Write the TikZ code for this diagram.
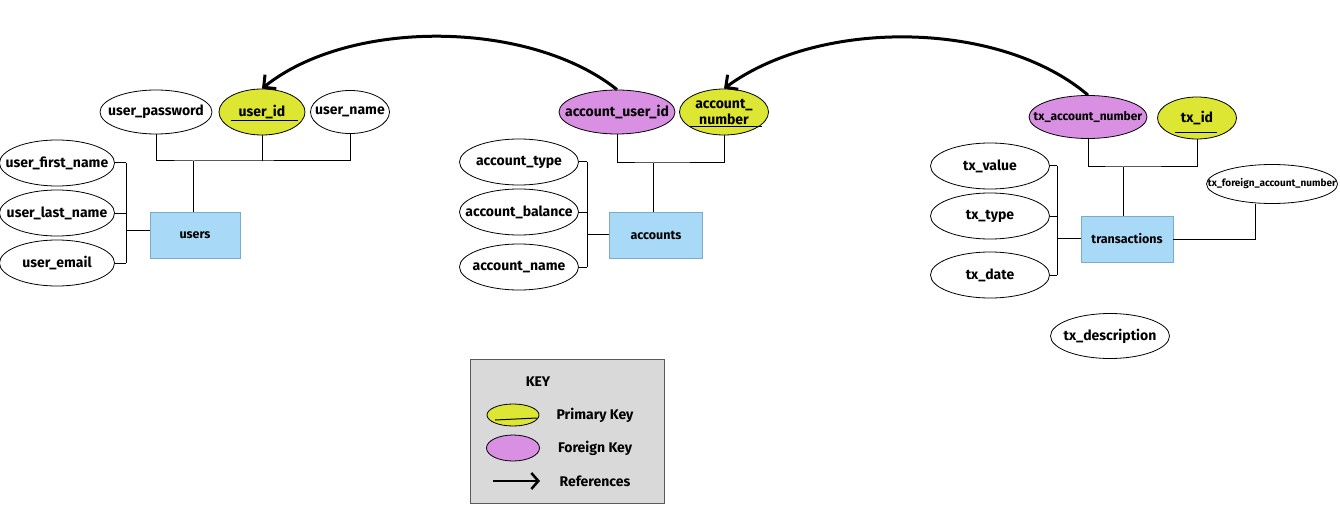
\documentclass[tikz,border=0pt]{standalone}
\usepackage{fontspec}
\setmainfont{Fira Sans}
\usetikzlibrary{shapes.geometric,arrows.meta}

\definecolor{pkyellow}{HTML}{DDE632}
\definecolor{fkpurple}{HTML}{D990E2}
\definecolor{entblue}{HTML}{A8DAF8}
\definecolor{entedge}{HTML}{7BAACB}
\definecolor{keygray}{HTML}{D9D9D9}

\newcommand{\lbl}[1]{\makebox[0pt]{#1}}

\tikzset{
	attr/.style={ellipse,draw,line width=0.8pt,inner sep=0pt,font=\bfseries\fontsize{14}{16}\selectfont},
	pk/.style={attr,fill=pkyellow},
	fk/.style={attr,fill=fkpurple},
	entity/.style={rectangle,draw=entedge,fill=entblue,line width=0.8pt,minimum height=46pt,font=\bfseries\fontsize{12.5}{14}\selectfont},
	link/.style={line width=1pt},
	refarrow/.style={line width=3pt,-{Straight Barb[length=9pt,width=18pt]}}
}

\begin{document}
\begin{tikzpicture}[x=1pt,y=-1pt]
	\useasboundingbox (0,0) rectangle (1340,513);

	% users
	\node[entity,minimum width=90pt] (users) at (195,235) {users};
	\node[attr,minimum width=112pt,minimum height=44pt] (upw) at (156,112) {\lbl{user\_password}};
	\node[pk,minimum width=86pt,minimum height=46pt] (uid) at (262,112) {\lbl{user\_id}};
	\draw[link] ([shift={(-31,9)}]uid.center) -- ++(67,0);
	\node[attr,minimum width=79pt,minimum height=43pt] (uname) at (350,112) {\lbl{user\_name}};
	\coordinate (ujoin) at (193,161);
	\coordinate (ubar) at (126,230);
	\draw[link] (upw.south) |- (ujoin) -| (uname.south);
	\draw[link] (uid.south) -- (uid.south |- ujoin);
	\draw[link] (ujoin) -- (ujoin |- users.north);
	\foreach \n/\t/\y in {ufirst/user\_first\_name/163,ulast/user\_last\_name/213,uemail/user\_email/263}{
		\node[attr,minimum width=115pt,minimum height=46pt] (\n) at (57,\y) {\lbl{\t}};
		\draw[link] (\n.east) -- (\n.east -| ubar);
	}
	\draw[link] (ufirst.east -| ubar) -- (uemail.east -| ubar);
	\draw[link] (ubar) -- (ubar -| users.west);

	% accounts
	\node[entity,minimum width=93pt] (accounts) at (656,235) {accounts};
	\node[fk,minimum width=116pt,minimum height=44pt] (aui) at (617,112) {\lbl{account\_user\_id}};
	\node[pk,minimum width=89pt,minimum height=46pt] (anum) at (724,112) {\lbl{\shortstack{account\_\\number}}};
	\draw[link] ([shift={(-34,15)}]anum.center) -- ++(72,0);
	\coordinate (ajoin) at (653,163);
	\coordinate (abar) at (587,234);
	\draw[link] (aui.south) |- (ajoin) -| (anum.south);
	\draw[link] (ajoin) -- (ajoin |- accounts.north);
	\foreach \n/\t/\y in {atype/account\_type/162,abal/account\_balance/212,aname/account\_name/267}{
		\node[attr,minimum width=119pt,minimum height=46pt] (\n) at (519,\y) {\lbl{\t}};
		\draw[link] (\n.east) -- (\n.east -| abar);
	}
	\draw[link] (atype.east -| abar) -- (aname.east -| abar);
	\draw[link] (abar) -- (abar -| accounts.west);

	% transactions
	\node[entity,minimum width=92pt] (trans) at (1127,239) {transactions};
	\node[fk,minimum width=118pt,minimum height=43pt,font=\bfseries\fontsize{12}{14}\selectfont] (txan) at (1088,117) {\lbl{tx\_account\_number}};
	\node[pk,minimum width=79pt,minimum height=42pt] (txid) at (1197,118) {\lbl{tx\_id}};
	\draw[link] ([shift={(-22,15)}]txid.center) -- ++(42,0);
	\coordinate (tjoin) at (1123,167);
	\coordinate (tbar) at (1057,238);
	\draw[link] (txan.south) |- (tjoin) -| (txid.south);
	\draw[link] (tjoin) -- (tjoin |- trans.north);
	\foreach \n/\t/\y in {tval/tx\_value/166,ttype/tx\_type/216,tdate/tx\_date/275}{
		\node[attr,minimum width=119pt,minimum height=46pt] (\n) at (990,\y) {\lbl{\t}};
		\draw[link] (\n.east) -- (\n.east -| tbar);
	}
	\draw[link] (tval.east -| tbar) -- (tdate.east -| tbar);
	\draw[link] (tbar) -- (tbar -| trans.west);
	\node[attr,minimum width=131pt,minimum height=39pt,font=\bfseries\fontsize{10}{12}\selectfont] (tfan) at (1272,184) {\lbl{tx\_foreign\_account\_number}};
	\draw[link] ([xshift=-17pt]tfan.south) |- (trans.east);
	\node[attr,minimum width=119pt,minimum height=45pt] (tdesc) at (1110,336) {\lbl{tx\_description}};

	% references
	\draw[refarrow] (aui.north) .. controls (530,20) and (350,18) .. (uid.north);
	\draw[refarrow] (txan.north) .. controls (1000,20) and (820,18) .. (anum.north);

	% key
	\node[rectangle,draw=black!65,fill=keygray,line width=1pt,minimum width=194pt,minimum height=144pt] (keybox) at (567,431) {};
	\node[font=\bfseries\fontsize{14}{16}\selectfont] (keytitle) at (538,382) {KEY};
	\node[pk,minimum width=52pt,minimum height=22pt] (keypk) at (513,415) {};
	\draw[link] ([shift={(-18,5)}]keypk.center) -- ([shift={(24,3)}]keypk.center);
	\node[fk,minimum width=53pt,minimum height=26pt] (keyfk) at (513,448) {};
	\coordinate (keyarrA) at (493,481);
	\coordinate (keyarrB) at (540,481);
	\draw[line width=2.5pt,-{Straight Barb[length=7pt,width=16pt]}] (keyarrA) -- (keyarrB);
	\foreach \y/\t in {415/Primary Key,448/Foreign Key,481/References}
		\node[font=\bfseries\fontsize{14}{16}\selectfont] (key\y) at (595,\y) {\t};
\end{tikzpicture}
\end{document}
